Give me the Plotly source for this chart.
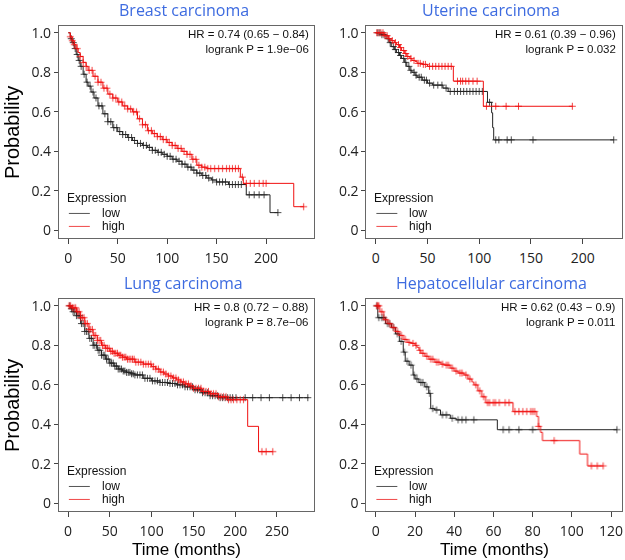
import numpy as np
import plotly.graph_objects as go
from plotly.subplots import make_subplots

# ---- data ----
titles = ["Breast carcinoma", "Uterine carcinoma", "Lung carcinoma", "Hepatocellular carcinoma"]
hr_text = ["HR = 0.74 (0.65 \u2212 0.84)<br>logrank P = 1.9e\u221206",
           "HR = 0.61 (0.39 \u2212 0.96)<br>logrank P = 0.032",
           "HR = 0.8 (0.72 \u2212 0.88)<br>logrank P = 8.7e\u221206",
           "HR = 0.62 (0.43 \u2212 0.9)<br>logrank P = 0.011"]

# Breast
breast_low_t = [0, 2, 4, 6, 8, 10, 12, 15, 18, 20, 23, 26, 30, 35, 40, 45, 50, 55, 60, 65, 70, 75, 80, 85,
                90, 95, 100, 105, 110, 115, 120, 125, 130, 135, 140, 145, 150, 162, 180, 204, 212]
breast_low_s = [1.0, 0.97, 0.95, 0.92, 0.89, 0.86, 0.83, 0.79, 0.75, 0.73, 0.70, 0.67, 0.63, 0.59, 0.55, 0.52,
                0.50, 0.485, 0.47, 0.455, 0.44, 0.43, 0.42, 0.405, 0.395, 0.385, 0.375, 0.36, 0.35, 0.335, 0.32,
                0.305, 0.29, 0.278, 0.265, 0.255, 0.245, 0.232, 0.18, 0.09, 0.09]
breast_low_c = [3, 5, 7, 9, 11, 13, 16, 19, 22, 25, 28, 31, 34, 37, 40, 43, 46, 49, 52, 55, 58, 61, 64, 67, 70,
                73, 76, 79, 82, 85, 88, 91, 94, 97, 100, 103, 106, 109, 112, 115, 118, 121, 124, 127, 130, 133,
                136, 139, 142, 146, 150, 153, 156, 159, 163, 166, 169, 172, 175, 183, 188, 193, 198, 212]
breast_high_t = [0, 2, 4, 6, 8, 10, 12, 15, 18, 20, 25, 30, 35, 40, 45, 50, 55, 60, 65, 70, 75, 80, 85, 90, 95,
                 100, 105, 110, 115, 120, 125, 130, 135, 140, 174, 177, 228, 238]
breast_high_s = [1.0, 0.98, 0.96, 0.94, 0.92, 0.90, 0.88, 0.85, 0.83, 0.81, 0.78, 0.75, 0.72, 0.69, 0.67, 0.65,
                 0.63, 0.615, 0.60, 0.565, 0.535, 0.505, 0.49, 0.475, 0.46, 0.445, 0.43, 0.415, 0.40, 0.385,
                 0.36, 0.33, 0.32, 0.313, 0.27, 0.238, 0.12, 0.12]
breast_high_c = [2, 4, 6, 9, 12, 15, 18, 21, 24, 27, 30, 33, 36, 39, 42, 45, 48, 51, 54, 57, 60, 63, 66, 69, 72,
                 75, 78, 81, 84, 87, 90, 93, 96, 99, 102, 105, 108, 111, 114, 117, 120, 123, 126, 129, 132, 135,
                 138, 141, 144, 148, 152, 156, 160, 163, 166, 169, 172, 176, 180, 184, 188, 193, 197, 200, 238]

# Uterine
uterine_low_t = [0, 5, 10, 13, 15, 18, 20, 23, 25, 28, 30, 33, 35, 38, 40, 45, 50, 55, 65, 70, 108, 112, 113,
                 114, 230]
uterine_low_s = [1.0, 0.99, 0.97, 0.95, 0.93, 0.915, 0.90, 0.885, 0.87, 0.85, 0.83, 0.81, 0.80, 0.785, 0.775,
                 0.76, 0.745, 0.735, 0.72, 0.703, 0.648, 0.595, 0.52, 0.458, 0.458]
uterine_low_c = [2, 4, 6, 8, 12, 14, 17, 19, 22, 24, 27, 29, 32, 34, 37, 39, 42, 44, 47, 49, 52, 56, 60, 64, 68,
                 72, 76, 79, 82, 85, 88, 91, 94, 97, 100, 103, 110, 116, 119, 127, 131, 152, 230]
uterine_high_t = [0, 8, 12, 15, 18, 20, 23, 25, 28, 30, 33, 35, 38, 40, 45, 50, 75, 104, 190]
uterine_high_s = [1.0, 0.985, 0.97, 0.96, 0.95, 0.94, 0.925, 0.91, 0.895, 0.88, 0.87, 0.86, 0.855, 0.845, 0.84,
                  0.83, 0.755, 0.628, 0.628]
uterine_high_c = [1, 3, 5, 7, 9, 11, 13, 16, 19, 22, 24, 27, 29, 31, 34, 37, 41, 43, 46, 48, 52, 55, 58, 61, 64,
                  67, 70, 73, 79, 82, 84, 87, 90, 94, 98, 107, 116, 126, 138, 190]

# Lung
lung_low_t = [0, 3, 6, 10, 15, 20, 25, 30, 35, 40, 45, 50, 55, 60, 65, 70, 75, 80, 90, 100, 110, 120, 130, 140,
              150, 160, 170, 180, 288]
lung_low_s = [1.0, 0.985, 0.97, 0.95, 0.91, 0.87, 0.835, 0.80, 0.775, 0.75, 0.73, 0.71, 0.695, 0.68, 0.67, 0.663,
              0.656, 0.65, 0.633, 0.62, 0.612, 0.607, 0.60, 0.59, 0.575, 0.56, 0.545, 0.535, 0.535]
lung_low_c = [2, 4, 6, 8, 10, 12, 14, 16, 18, 20, 22, 24, 26, 28, 30, 32, 34, 36, 38, 40, 42, 44, 46, 48, 50, 52,
              54, 56, 58, 60, 62, 64, 66, 68, 70, 72, 74, 76, 78, 80, 83, 86, 89, 92, 95, 98, 101, 104, 107, 110,
              113, 116, 119, 122, 125, 128, 131, 134, 137, 140, 143, 146, 149, 152, 155, 158, 161, 164, 167, 170,
              173, 176, 179, 182, 185, 188, 191, 194, 197, 201, 212, 221, 231, 241, 257, 267, 277, 287]
lung_high_t = [0, 5, 10, 15, 20, 25, 30, 35, 40, 45, 50, 55, 60, 65, 70, 80, 90, 100, 105, 110, 115, 120, 125, 130,
               135, 140, 145, 150, 160, 170, 180, 190, 215, 228, 245]
lung_high_s = [1.0, 0.99, 0.97, 0.94, 0.91, 0.88, 0.85, 0.825, 0.80, 0.785, 0.77, 0.76, 0.75, 0.74, 0.73, 0.715,
               0.705, 0.692, 0.68, 0.665, 0.655, 0.645, 0.635, 0.625, 0.615, 0.605, 0.595, 0.583, 0.567, 0.555,
               0.54, 0.525, 0.39, 0.262, 0.262]
lung_high_c = [1, 3, 5, 7, 9, 11, 13, 15, 17, 19, 21, 23, 25, 27, 29, 31, 33, 35, 37, 39, 41, 43, 45, 47, 49, 51,
               53, 55, 57, 59, 61, 63, 65, 67, 69, 71, 73, 75, 77, 79, 81, 84, 87, 90, 93, 96, 99, 102, 105, 108,
               111, 114, 117, 120, 123, 126, 129, 132, 135, 138, 141, 144, 147, 150, 153, 156, 159, 162, 165, 168,
               171, 174, 177, 180, 183, 186, 189, 192, 195, 198, 202, 206, 210, 232, 237, 245]

# Hepatocellular
liver_low_t = [0, 1, 5, 8, 10, 12, 14, 15, 17, 19, 20, 22, 25, 27, 28, 30, 33, 38, 41, 62, 123]
liver_low_s = [1.0, 0.94, 0.91, 0.89, 0.858, 0.82, 0.766, 0.72, 0.70, 0.65, 0.63, 0.612, 0.59, 0.557, 0.48, 0.473,
               0.448, 0.431, 0.423, 0.373, 0.373]
liver_low_c = [0.5, 1.5, 3, 4, 6, 7, 9, 11, 13, 14.5, 16, 18, 19.5, 21, 23, 24, 26, 27.5, 29, 31, 34, 36, 39, 42,
               44, 46, 50, 65, 68, 73, 80, 123]
liver_high_t = [0, 2, 4, 6, 8, 10, 12, 14, 16, 18, 20, 21, 22, 23, 25, 27, 30, 33, 35, 38, 40, 42, 45, 47, 49, 50,
                52, 54, 56, 70, 82, 83, 84, 85, 104, 108, 116]
liver_high_s = [1.0, 0.97, 0.93, 0.91, 0.89, 0.87, 0.85, 0.83, 0.815, 0.81, 0.80, 0.79, 0.775, 0.76, 0.745, 0.73,
                0.715, 0.705, 0.70, 0.685, 0.67, 0.66, 0.65, 0.63, 0.615, 0.60, 0.57, 0.54, 0.51, 0.465, 0.44,
                0.39, 0.36, 0.318, 0.25, 0.19, 0.19]
liver_high_c = [0.5, 1, 1.5, 3, 5, 7, 9, 11, 13, 15, 17, 19, 20.5, 22.5, 24, 26, 28, 29, 31, 32, 34, 36, 37, 39,
                41, 43, 44, 46, 48, 51, 53, 55, 57, 58, 60, 61, 63, 66, 68, 71, 73, 75, 77, 79, 80, 81, 83, 91,
                110, 113, 116]

panels = [
    (breast_low_t, breast_low_s, breast_low_c, breast_high_t, breast_high_s, breast_high_c),
    (uterine_low_t, uterine_low_s, uterine_low_c, uterine_high_t, uterine_high_s, uterine_high_c),
    (lung_low_t, lung_low_s, lung_low_c, lung_high_t, lung_high_s, lung_high_c),
    (liver_low_t, liver_low_s, liver_low_c, liver_high_t, liver_high_s, liver_high_c),
]
x_ranges = [[-9.5, 249], [-9, 238], [-11, 295], [-4.8, 125.6]]
x_ticks = [[0, 50, 100, 150, 200], [0, 50, 100, 150, 200], [0, 50, 100, 150, 200, 250],
           [0, 20, 40, 60, 80, 100, 120]]
y_ticks = [0, 0.2, 0.4, 0.6, 0.8, 1.0]
y_labels = ["0", "0.2", "0.4", "0.6", "0.8", "1.0"]


def step_value(t, s, c):
    idx = np.searchsorted(np.array(t), np.array(c), side="right") - 1
    return np.array(s)[idx]


W, H = 625, 560


def px(x):
    return x / W


def py(y):
    return 1 - y / H


# frame boxes in pixels: (left, right, top, bottom)
boxes = [(59, 315, 23, 237), (367, 623, 23, 237), (59, 315, 298, 512), (367, 623, 298, 512)]

fig = make_subplots(rows=2, cols=2)
tick_font = dict(family="Open Sans", size=14, color="#222")
BLUE = "#3d6be0"
RED = "#f01010"

annotations = []
shapes = []
for i, (lt, ls, lc, ht, hs, hc) in enumerate(panels):
    r, c = i // 2 + 1, i % 2 + 1
    for t, s, cs, col in [(lt, ls, lc, "#222"), (ht, hs, hc, RED)]:
        fig.add_trace(go.Scatter(x=t, y=s, mode="lines", line=dict(color=col, width=1, shape="hv"),
                                 showlegend=False, hoverinfo="skip"), row=r, col=c)
        for sym in ["line-ns", "line-ew"]:
            fig.add_trace(go.Scatter(x=cs, y=step_value(t, s, cs), mode="markers",
                                     marker=dict(symbol=sym, size=5, line=dict(color=col, width=1)),
                                     opacity=0.8, showlegend=False, hoverinfo="skip"), row=r, col=c)

    L, R, T, B = boxes[i]
    axn = "" if i == 0 else str(i + 1)
    fig.layout["xaxis" + axn].update(
        domain=[px(L), px(R)], range=x_ranges[i], tickvals=x_ticks[i], showgrid=False, zeroline=False,
        showline=True, mirror=True, linecolor="#666", linewidth=1, ticks="outside", ticklen=5,
        tickcolor="#444", tickfont=tick_font, ticklabelstandoff=2)
    fig.layout["yaxis" + axn].update(
        domain=[py(B), py(T)], range=[-0.04, 1.035], tickvals=y_ticks, ticktext=y_labels, showgrid=False,
        zeroline=False, showline=True, mirror=True, linecolor="#666", linewidth=1, ticks="outside",
        ticklen=4, tickcolor="#444", tickfont=tick_font)

    xd, yd = "x" + axn + " domain", "y" + axn + " domain"
    # title
    annotations.append(dict(text=titles[i], x=px((L + R) / 2 - 3), y=py(T - 16), xref="paper",
                            yref="paper", showarrow=False, xanchor="center", yanchor="middle",
                            font=dict(family="Open Sans", size=16, color=BLUE)))
    # HR / logrank
    annotations.append(dict(text=hr_text[i], x=0.985, y=1.0, xref=xd, yref=yd, showarrow=False,
                            xanchor="right", yanchor="top", align="right",
                            font=dict(family="Liberation Sans", size=11.5, color="#111")))
    # legend
    annotations.append(dict(text="Expression", x=0.023, y=0.19, xref=xd, yref=yd, showarrow=False,
                            xanchor="left", yanchor="middle",
                            font=dict(family="Liberation Sans", size=12, color="#111")))
    for lab, yy, col in [("low", 0.117, "#555"), ("high", 0.056, "#f04848")]:
        annotations.append(dict(text=lab, x=0.16, y=yy, xref=xd, yref=yd, showarrow=False,
                                xanchor="left", yanchor="middle",
                                font=dict(family="Liberation Sans", size=12, color="#111")))
        shapes.append(dict(type="line", x0=0.039, x1=0.121, y0=yy, y1=yy, xref=xd, yref=yd,
                           line=dict(color=col, width=1)))

for yc in [(23 + 237) / 2, (298 + 512) / 2]:
    annotations.append(dict(text="Probability", x=px(12), y=py(yc), xref="paper", yref="paper",
                            showarrow=False, textangle=-90, xanchor="center", yanchor="middle",
                            font=dict(family="Liberation Sans", size=20, color="black")))
for xc in [(59 + 315) / 2, (367 + 623) / 2]:
    annotations.append(dict(text="Time (months)", x=px(xc), y=py(550), xref="paper", yref="paper",
                            showarrow=False, xanchor="center", yanchor="middle",
                            font=dict(family="Liberation Sans", size=17, color="black")))

fig.update_layout(width=W, height=H, margin=dict(l=0, r=0, t=0, b=0), plot_bgcolor="white",
                  paper_bgcolor="white", annotations=annotations, shapes=shapes, showlegend=False)

# the default page has an 8px body margin; drop it so the 625x560 figure fills the window
fig.write_html("out.html", config={"displayModeBar": False},
               post_script="document.body.style.margin = '0px';")
